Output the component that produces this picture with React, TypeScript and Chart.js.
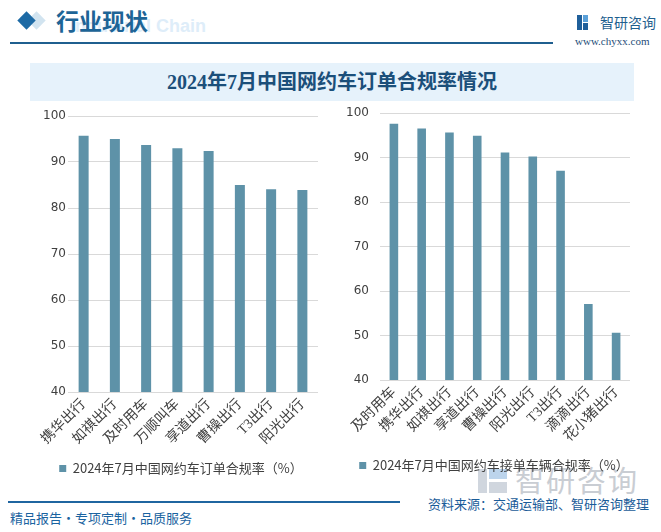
import React, { useEffect, useRef } from "react";
import { Chart, registerables } from "chart.js";

Chart.register(...registerables);

// ---- data ----
const leftCategories = ["携华出行", "如祺出行", "及时用车", "万顺叫车", "享道出行", "曹操出行", "T3出行", "阳光出行"];
const leftValues = [95.7, 95.0, 93.7, 93.0, 92.4, 85.0, 84.1, 83.9];
const rightCategories = ["及时用车", "携华出行", "如祺出行", "享道出行", "曹操出行", "阳光出行", "T3出行", "滴滴出行", "花小猪出行"];
const rightValues = [97.6, 96.5, 95.6, 94.9, 91.1, 90.2, 87.0, 57.1, 50.6];
const yMin = 40;
const yMax = 100;
const yStep = 10;
const leftLegend = "2024年7月中国网约车订单合规率（%）";
const rightLegend = "2024年7月中国网约车接单车辆合规率（%）";
const chartTitle = "2024年7月中国网约车订单合规率情况";

const BAR = "#5e92a8";
const GRID = "#d9d9d9";
const SANS = "'Noto Sans CJK SC', 'Noto Sans', sans-serif";
const SERIF = "'Liberation Serif', 'Noto Sans CJK SC', serif";

type Opts = {
  yWidth: number;
  xHeight: number;
  padTop: number;
  padRight: number;
  yGap: number;
  barPct: number;
  legendDx: number;
};

const legendShift = {
  id: "legendShift",
  afterLayout(chart: any, _args: any, opts: any) {
    const l = chart.legend;
    const dx = (opts && opts.dx) || 0;
    if (l && dx) {
      l.left += dx;
      l.right += dx;
    }
  },
};

function makeConfig(labels: string[], values: number[], legend: string, o: Opts): any {
  return {
    type: "bar",
    data: {
      labels,
      datasets: [
        {
          label: legend,
          data: values,
          backgroundColor: BAR,
          borderWidth: 0,
          barPercentage: o.barPct,
          categoryPercentage: 1,
        },
      ],
    },
    plugins: [legendShift],
    options: {
      responsive: false,
      animation: false,
      layout: { padding: { top: o.padTop, right: o.padRight, left: 0, bottom: 0 } },
      plugins: {
        legendShift: { dx: o.legendDx },
        title: { display: false },
        tooltip: { enabled: false },
        legend: {
          display: true,
          position: "bottom",
          labels: {
            boxWidth: 7,
            boxHeight: 7,
            padding: 10,
            color: "#404040",
            font: { family: SANS, size: 13 },
          },
        },
      },
      scales: {
        x: {
          grid: { display: false, drawTicks: false },
          border: { display: false },
          ticks: {
            minRotation: 45,
            maxRotation: 45,
            autoSkip: false,
            padding: 4,
            color: "#404040",
            font: { family: SERIF, size: 14 },
          },
          afterFit: (s: any) => {
            s.height = o.xHeight;
          },
        },
        y: {
          min: yMin,
          max: yMax,
          grid: {
            color: GRID,
            lineWidth: 1,
            drawTicks: o.yGap > 0,
            tickLength: o.yGap,
            tickColor: "rgba(0,0,0,0)",
          },
          border: { display: false },
          ticks: {
            stepSize: yStep,
            padding: 2,
            color: "#404040",
            font: { family: "'DejaVu Sans', sans-serif", size: 12 },
          },
          afterFit: (s: any) => {
            s.width = o.yWidth;
          },
        },
      },
    },
  };
}

function BarChart(props: {
  labels: string[];
  values: number[];
  legend: string;
  opts: Opts;
  style: React.CSSProperties;
  width: number;
  height: number;
}) {
  const ref = useRef<HTMLCanvasElement | null>(null);
  useEffect(() => {
    if (!ref.current) return;
    const chart = new Chart(ref.current, makeConfig(props.labels, props.values, props.legend, props.opts));
    return () => chart.destroy();
  }, []);
  return (
    <canvas
      ref={ref}
      width={props.width}
      height={props.height}
      style={{ position: "absolute", width: props.width, height: props.height, ...props.style }}
    />
  );
}

export default function App() {
  const abs = (s: React.CSSProperties): React.CSSProperties => ({ position: "absolute", ...s });
  return (
    <div
      style={{
        position: "fixed",
        left: 0,
        top: 0,
        width: 661,
        height: 532,
        background: "#ffffff",
        overflow: "hidden",
        fontFamily: SANS,
      }}
    >
      {/* header */}
      <div style={abs({ left: 30, top: 14, width: 13, height: 13, background: "#d2e4f0", transform: "rotate(45deg)" })} />
      <div style={abs({ left: 20, top: 14, width: 13, height: 13, background: "#1d6aa5", transform: "rotate(45deg)" })} />
      <div
        style={abs({
          left: 70,
          top: 16,
          fontFamily: "'Liberation Sans', Arial, sans-serif",
          fontWeight: 700,
          fontSize: 18,
          color: "#deedf9",
          whiteSpace: "nowrap",
        })}
      >
        Industrial Chain
      </div>
      <div
        style={abs({
          left: 56,
          top: 3,
          fontFamily: SANS,
          fontWeight: 700,
          fontSize: 23,
          color: "#1d6496",
          whiteSpace: "nowrap",
        })}
      >
        行业现状
      </div>
      <div style={abs({ left: 10, top: 42, width: 543, height: 2, background: "#1f5f8f" })} />

      {/* logo top right */}
      <div style={abs({ left: 577, top: 15, width: 5, height: 15, background: "#1f5f9a" })} />
      <div style={abs({ left: 583, top: 15, width: 5, height: 7, background: "#5aa0d8" })} />
      <div style={abs({ left: 583, top: 23, width: 5, height: 7, background: "#1f5f9a" })} />
      <div
        style={abs({ left: 600, top: 12, fontFamily: SANS, fontSize: 14, color: "#1f5f8f", whiteSpace: "nowrap" })}
      >
        智研咨询
      </div>
      <div
        style={abs({
          left: 575,
          top: 35,
          fontFamily: "'Liberation Serif', serif",
          fontSize: 11,
          color: "#1f4e79",
          whiteSpace: "nowrap",
        })}
      >
        www.chyxx.com
      </div>

      {/* title band */}
      <div style={abs({ left: 30, top: 63, width: 604, height: 38, background: "#e6f2fb" })} />
      <div
        style={abs({
          left: 30,
          top: 63,
          width: 604,
          height: 38,
          lineHeight: "38px",
          textAlign: "center",
          fontFamily: SERIF,
          fontWeight: 700,
          fontSize: 20,
          color: "#1b4f7a",
          whiteSpace: "nowrap",
        })}
      >
        {chartTitle}
      </div>

      {/* bottom watermark */}
      <div style={abs({ left: 478, top: 469, width: 9, height: 24, background: "#d0d6de" })} />
      <div style={abs({ left: 489, top: 469, width: 18, height: 10, background: "#bcd4ec" })} />
      <div style={abs({ left: 489, top: 482, width: 18, height: 11, background: "#d0d6de" })} />
      <div
        style={abs({
          left: 515,
          top: 458,
          fontFamily: SANS,
          fontSize: 29,
          color: "#c9cdd3",
          letterSpacing: 2,
          whiteSpace: "nowrap",
        })}
      >
        智研咨询
      </div>

      {/* charts */}
      <BarChart
        labels={leftCategories}
        values={leftValues}
        legend={leftLegend}
        width={300}
        height={380}
        style={{ left: 30, top: 105 }}
        opts={{ yWidth: 38, xHeight: 60, padTop: 11, padRight: 12, yGap: 0, barPct: 0.32, legendDx: 7 }}
      />
      <BarChart
        labels={rightCategories}
        values={rightValues}
        legend={rightLegend}
        width={300}
        height={380}
        style={{ left: 340, top: 102 }}
        opts={{ yWidth: 40, xHeight: 69, padTop: 11, padRight: 10, yGap: 9, barPct: 0.31, legendDx: 9 }}
      />

      {/* footer */}
      <div style={abs({ left: 8, top: 501, width: 392, height: 2, background: "#1f65a0" })} />
      <div
        style={abs({ left: 10, top: 508, fontFamily: SANS, fontSize: 13, color: "#1a63a0", whiteSpace: "nowrap" })}
      >
        精品报告・专项定制・品质服务
      </div>
      <div
        style={abs({ left: 428, top: 494, fontFamily: SANS, fontSize: 13, color: "#1a5c99", whiteSpace: "nowrap" })}
      >
        资料来源：交通运输部、智研咨询整理
      </div>
    </div>
  );
}
